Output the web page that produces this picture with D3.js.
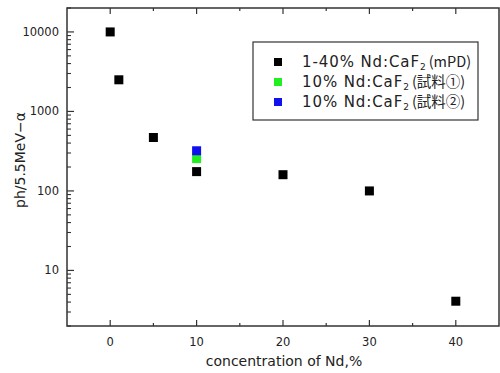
<!DOCTYPE html>
<html><head><meta charset="utf-8">
<script src="https://cdn.jsdelivr.net/npm/d3@7"></script>
<style>
body{margin:0;background:#fff;}
text{font-family:"DejaVu Sans","Noto Sans CJK JP",sans-serif;}
</style></head>
<body><svg id="c" width="500" height="373"></svg>
<script>
const mpdX = [0, 1, 5, 10, 20, 30, 40];
const mpdY = [10000, 2500, 470, 175, 160, 100, 4.1];
const s1X = [10];
const s1Y = [255];
const s2X = [10];
const s2Y = [320];
const xTicks = [0, 10, 20, 30, 40];
const yTicks = [10, 100, 1000, 10000];
const legendLabels = [
  ["1-40% Nd:CaF", "2", "(mPD)"],
  ["10% Nd:CaF", "2", "(試料①)"],
  ["10% Nd:CaF", "2", "(試料②)"]
];
const colors = ["#000000", "#22ee22", "#1010ee"];

const svg = d3.select("#c");
const L = 67, R = 499, T = 8, B = 326;
const x = d3.scaleLinear().domain([-5, 45]).range([L, R]);
const y = d3.scaleLog().domain([2, 20000]).range([B, T]);

svg.append("rect").attr("x", L).attr("y", T).attr("width", R - L).attr("height", B - T)
  .attr("fill", "none").attr("stroke", "#333").attr("stroke-width", 1.5);

const tickCol = "#333";
const xMinor = [5, 15, 25, 35];
xTicks.forEach(v => {
  svg.append("line").attr("x1", x(v)).attr("x2", x(v)).attr("y1", B).attr("y2", B - 6).attr("stroke", tickCol).attr("stroke-width", 1.2);
  svg.append("line").attr("x1", x(v)).attr("x2", x(v)).attr("y1", T).attr("y2", T + 6).attr("stroke", tickCol).attr("stroke-width", 1.2);
  svg.append("text").attr("x", x(v)).attr("y", 346).attr("text-anchor", "middle").attr("font-size", 11.5).attr("fill", "#222").text(v);
});
xMinor.forEach(v => {
  svg.append("line").attr("x1", x(v)).attr("x2", x(v)).attr("y1", B).attr("y2", B - 3).attr("stroke", tickCol).attr("stroke-width", 1.2);
  svg.append("line").attr("x1", x(v)).attr("x2", x(v)).attr("y1", T).attr("y2", T + 3).attr("stroke", tickCol).attr("stroke-width", 1.2);
});

const yMinorAll = [];
for (let e = 0; e <= 4; e++) for (let m = 2; m <= 9; m++) {
  const v = m * Math.pow(10, e);
  if (v >= 2 && v <= 20000) yMinorAll.push(v);
}
yMinorAll.forEach(v => {
  svg.append("line").attr("x1", L).attr("x2", L + 4).attr("y1", y(v)).attr("y2", y(v)).attr("stroke", tickCol).attr("stroke-width", 1.1);
});
yTicks.forEach(v => {
  svg.append("line").attr("x1", L).attr("x2", L + 7).attr("y1", y(v)).attr("y2", y(v)).attr("stroke", tickCol).attr("stroke-width", 1.2);
  svg.append("text").attr("x", 59).attr("y", y(v) + 4).attr("text-anchor", "end").attr("font-size", 11.5).attr("fill", "#222").text(v);
});

svg.append("text").attr("x", 284).attr("y", 366).attr("text-anchor", "middle").attr("font-size", 14).attr("fill", "#222").text("concentration of Nd,%");
svg.append("text").attr("transform", "translate(25,160) rotate(-90)").attr("text-anchor", "middle").attr("font-size", 14).attr("fill", "#222").text("ph/5.5MeV−α");

const sz = 9;
function pts(xs, ys, col) {
  svg.append("g").selectAll("rect").data(xs.map((d, i) => [d, ys[i]])).join("rect")
    .attr("x", d => x(d[0]) - sz / 2).attr("y", d => y(d[1]) - sz / 2)
    .attr("width", sz).attr("height", sz).attr("fill", col);
}
pts(mpdX, mpdY, colors[0]);
pts(s1X, s1Y, colors[1]);
pts(s2X, s2Y, colors[2]);

svg.append("rect").attr("x", 253).attr("y", 42).attr("width", 225).attr("height", 78)
  .attr("fill", "#fff").attr("stroke", "#333").attr("stroke-width", 1.2);
legendLabels.forEach((lab, i) => {
  const cy = 62 + i * 20;
  svg.append("rect").attr("x", 274).attr("y", cy - 4).attr("width", 8).attr("height", 8).attr("fill", colors[i]);
  const t = svg.append("text").attr("x", 302).attr("y", cy + 5).attr("font-size", 15).attr("fill", "#222");
  t.append("tspan").attr("letter-spacing", 0.9).text(lab[0]);
  t.append("tspan").attr("font-size", 9).attr("dy", 3).text(lab[1]);
  t.append("tspan").attr("dy", -3).attr("dx", 3).attr("font-size", 14.5)
    .attr("font-family", "'Noto Sans CJK JP', sans-serif").text(lab[2]);
});
</script></body></html>
